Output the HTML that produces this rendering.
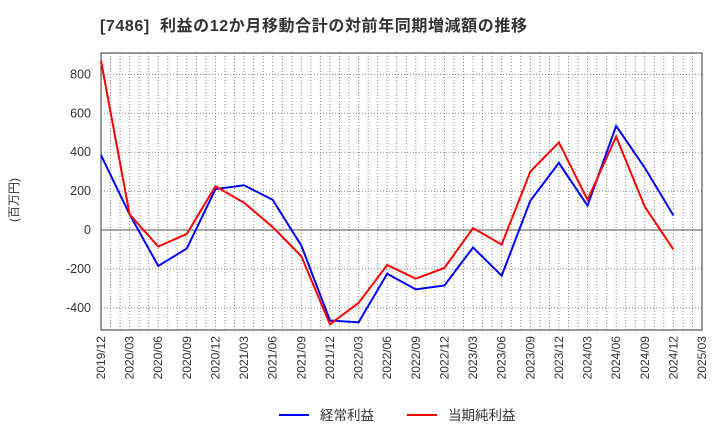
<!DOCTYPE html>
<html><head><meta charset="utf-8"><style>
body{margin:0;background:#fff;font-family:"Liberation Sans","Noto Sans CJK JP",sans-serif}
</style></head><body>
<svg id="c" width="720" height="440" xmlns="http://www.w3.org/2000/svg">
<text x="100" y="31" font-size="16" font-weight="bold" fill="#333" letter-spacing="0.6" font-family="Liberation Sans,Noto Sans CJK JP,sans-serif" xml:space="preserve">[7486]  利益の12か月移動合計の対前年同期増減額の推移</text>
<text transform="translate(18,200) rotate(-90)" text-anchor="middle" font-size="12" fill="#333" font-family="Liberation Sans,Noto Sans CJK JP,sans-serif">(百万円)</text>
<g id="grid"></g><g id="axes"></g><g id="series"></g>
<g>
<line x1="279" y1="415" x2="309" y2="415" stroke="#0000ff" stroke-width="2"/>
<text x="320" y="420" font-size="13.5" fill="#333" font-family="Liberation Sans,Noto Sans CJK JP,sans-serif">経常利益</text>
<line x1="407" y1="415" x2="437" y2="415" stroke="#ff0000" stroke-width="2"/>
<text x="448" y="420" font-size="13.5" fill="#333" font-family="Liberation Sans,Noto Sans CJK JP,sans-serif">当期純利益</text>
</g>
</svg>
<script>
const categories=["2019/12","2020/03","2020/06","2020/09","2020/12","2021/03","2021/06","2021/09","2021/12","2022/03","2022/06","2022/09","2022/12","2023/03","2023/06","2023/09","2023/12","2024/03","2024/06","2024/09","2024/12","2025/03"];
const ordinaryProfit=[385,80,-185,-95,210,230,155,-80,-465,-475,-225,-305,-285,-90,-235,150,345,125,535,320,75];
const netProfit=[870,80,-85,-20,225,140,15,-135,-485,-375,-180,-250,-195,10,-75,300,450,155,480,120,-100];
const yTicks=[-400,-200,0,200,400,600,800];
const L=101,R=702,T=53,B=330;
const x=i=>L+(R-L)*i/(categories.length-1);
const y=v=>230-v*38.9/200;
const NS="http://www.w3.org/2000/svg";
function mk(p,t,a){const e=document.createElementNS(NS,t);for(const k in a)e.setAttribute(k,a[k]);document.getElementById(p).appendChild(e);return e;}
const months=(categories.length-1)*3;
for(let m=1;m<months;m++){const xx=L+(R-L)*m/months;
const g=mk('grid','line',{x1:xx,x2:xx,y1:T,y2:B,stroke:'#888','stroke-dasharray':'1,2','stroke-width':1});

}
yTicks.forEach(v=>{const g=mk('grid','line',{x1:L,x2:R,y1:y(v),y2:y(v),stroke:v===0?'#555':'#888','stroke-dasharray':v===0?'none':'1,2','stroke-width':1});


const t=mk('axes','text',{x:L-10,y:y(v)+4,'text-anchor':'end','font-size':12.5,fill:'#333'});t.textContent=v;

});
const fr=mk('axes','rect',{x:L,y:T,width:R-L,height:B-T,fill:'none',stroke:'#333'});


categories.forEach((c,i)=>{const t=mk('axes','text',{transform:`translate(${x(i)+4},${B+6}) rotate(-90)`,'text-anchor':'end','font-size':12,fill:'#333'});t.textContent=c;

});
[[ordinaryProfit,'#0000ff','ordinary-profit-line'],[netProfit,'#ff0000','net-profit-line']].forEach(([d,c,n])=>{
const p=mk('series','polyline',{points:d.map((v,i)=>x(i)+','+y(v)).join(' '),fill:'none',stroke:c,'stroke-width':2});

});
</script>
</body></html>
